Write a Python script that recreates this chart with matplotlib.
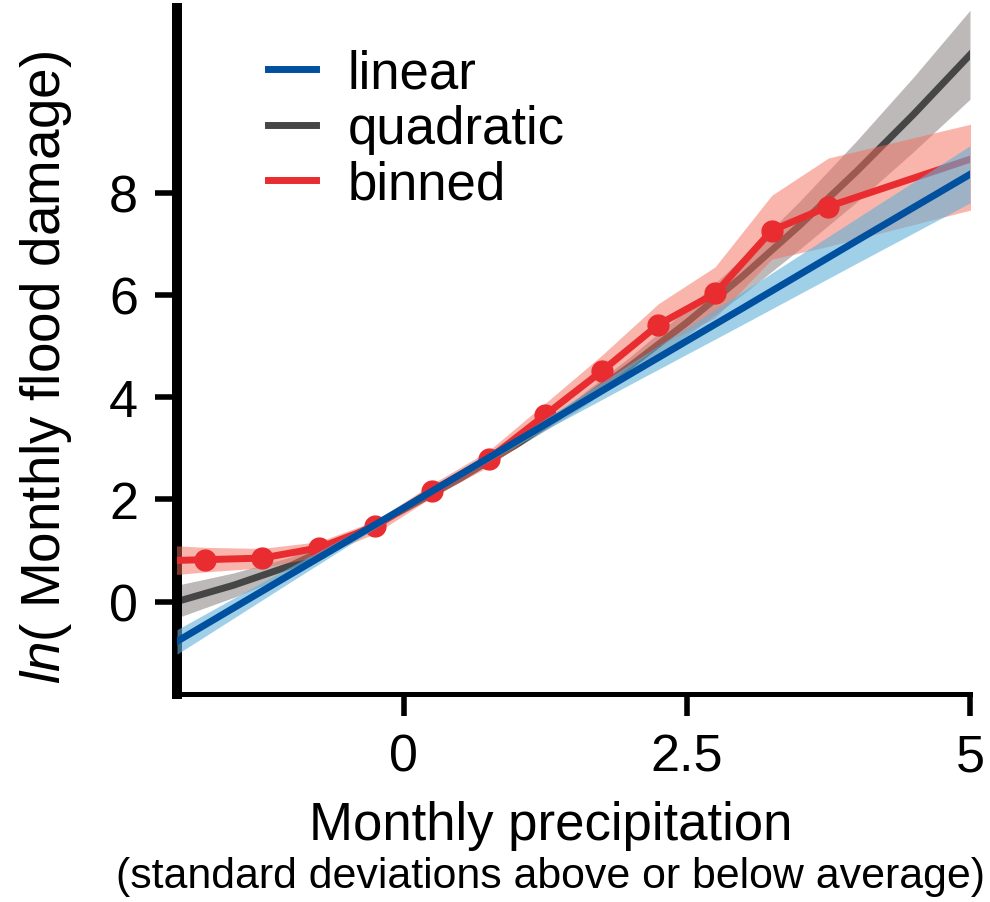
import matplotlib
matplotlib.use("Agg")
import matplotlib.pyplot as plt
from matplotlib.lines import Line2D

plt.rcParams['font.family'] = ['Liberation Sans', 'DejaVu Sans']
plt.rcParams['mathtext.fontset'] = 'custom'
plt.rcParams['mathtext.rm'] = 'Liberation Sans'
plt.rcParams['mathtext.it'] = 'Liberation Sans:italic'

# linear fit and its confidence band
lin_x = [-2, -1, 0, 1, 2, 3, 4, 5]
lin_y = [-0.78, 0.53, 1.83, 3.14, 4.45, 5.75, 7.06, 8.36]
lin_lo = [-1.03, 0.38, 1.78, 3.06, 4.25, 5.43, 6.62, 7.80]
lin_hi = [-0.55, 0.68, 1.88, 3.22, 4.65, 6.07, 7.50, 8.92]

# quadratic fit and its confidence band
quad_x = [-2, -1.5, -1, -0.5, 0, 0.5, 1, 1.5, 2, 2.5, 3, 3.5, 4, 4.5, 5]
quad_y = [0.0, 0.32, 0.70, 1.22, 1.80, 2.41, 3.08, 3.81, 4.61, 5.46, 6.38, 7.37, 8.42, 9.53, 10.70]
quad_lo = [-0.32, 0.08, 0.53, 1.12, 1.74, 2.36, 3.01, 3.69, 4.43, 5.20, 6.02, 6.90, 7.82, 8.80, 9.83]
quad_hi = [0.32, 0.56, 0.87, 1.32, 1.86, 2.46, 3.15, 3.93, 4.79, 5.72, 6.74, 7.84, 9.02, 10.26, 11.57]

# binned estimates (bin centres), outermost bins lie outside the axes
bin_x = [-2.25, -1.75, -1.25, -0.75, -0.25, 0.25, 0.75, 1.25, 1.75, 2.25, 2.75, 3.25, 3.75, 5.25]
bin_y = [0.79, 0.82, 0.85, 1.05, 1.47, 2.17, 2.79, 3.65, 4.51, 5.42, 6.03, 7.26, 7.73, 8.84]
bin_lo = [0.48, 0.58, 0.66, 0.88, 1.33, 2.04, 2.64, 3.43, 4.20, 5.00, 5.55, 6.70, 6.95, 7.80]
bin_hi = [1.12, 1.06, 1.04, 1.17, 1.58, 2.30, 2.95, 3.88, 4.82, 5.83, 6.55, 7.95, 8.68, 9.47]

xticks = [0, 2.5, 5]
xticklabels = ['0', '2.5', '5']
yticks = [0, 2, 4, 6, 8]

blue = '#0050A0'
gray = '#464646'
red = '#E82C30'

fig = plt.figure(figsize=(9.9, 9.03), dpi=100)
ax = fig.add_axes([0.1788, 0.2303, 0.801, 0.760])

ax.fill_between(quad_x, quad_lo, quad_hi, color='#7F7575', alpha=0.5, lw=0, zorder=1)
ax.plot(quad_x, quad_y, color=gray, lw=5, zorder=2)
ax.fill_between(bin_x, bin_lo, bin_hi, color='#F46D5A', alpha=0.5, lw=0, zorder=3)
ax.plot(bin_x, bin_y, color=red, lw=5, marker='o', ms=15, zorder=4)
ax.fill_between(lin_x, lin_lo, lin_hi, color='#61B1D9', alpha=0.6, lw=0, zorder=5)
ax.plot(lin_x, lin_y, color=blue, lw=5, zorder=6)

ax.set_xlim(-2, 5)
ax.set_ylim(-1.81, 11.62)

ax.spines['top'].set_visible(False)
ax.spines['right'].set_visible(False)
ax.spines['left'].set_linewidth(7.2)
ax.spines['bottom'].set_linewidth(3.6)

ax.set_xticks(xticks)
ax.set_xticklabels(xticklabels)
ax.set_yticks(yticks)
ax.tick_params(axis='both', length=16, width=4, labelsize=37.5)
ax.tick_params(axis='x', pad=12)
ax.tick_params(axis='y', pad=12)

ax.set_ylabel(r'$\mathit{ln}$( Monthly flood damage)', fontsize=39.5)
ax.yaxis.set_label_coords(-0.13, 0.478)

fig.text(0.556, 0.070, 'Monthly precipitation', fontsize=38, ha='center', va='baseline')
fig.text(0.556, 0.017, '(standard deviations above or below average)', fontsize=30.9,
         ha='center', va='baseline')

handles = [Line2D([], [], color=blue, lw=5), Line2D([], [], color=gray, lw=5),
           Line2D([], [], color=red, lw=5)]
ax.legend(handles, ['linear', 'quadratic', 'binned'], loc='upper left',
          bbox_to_anchor=(0.115, 0.940), frameon=False, fontsize=38,
          handlelength=0.9, handletextpad=0.6, labelspacing=0.1, borderpad=0,
          borderaxespad=0)

fig.savefig('out.png', dpi=100)
